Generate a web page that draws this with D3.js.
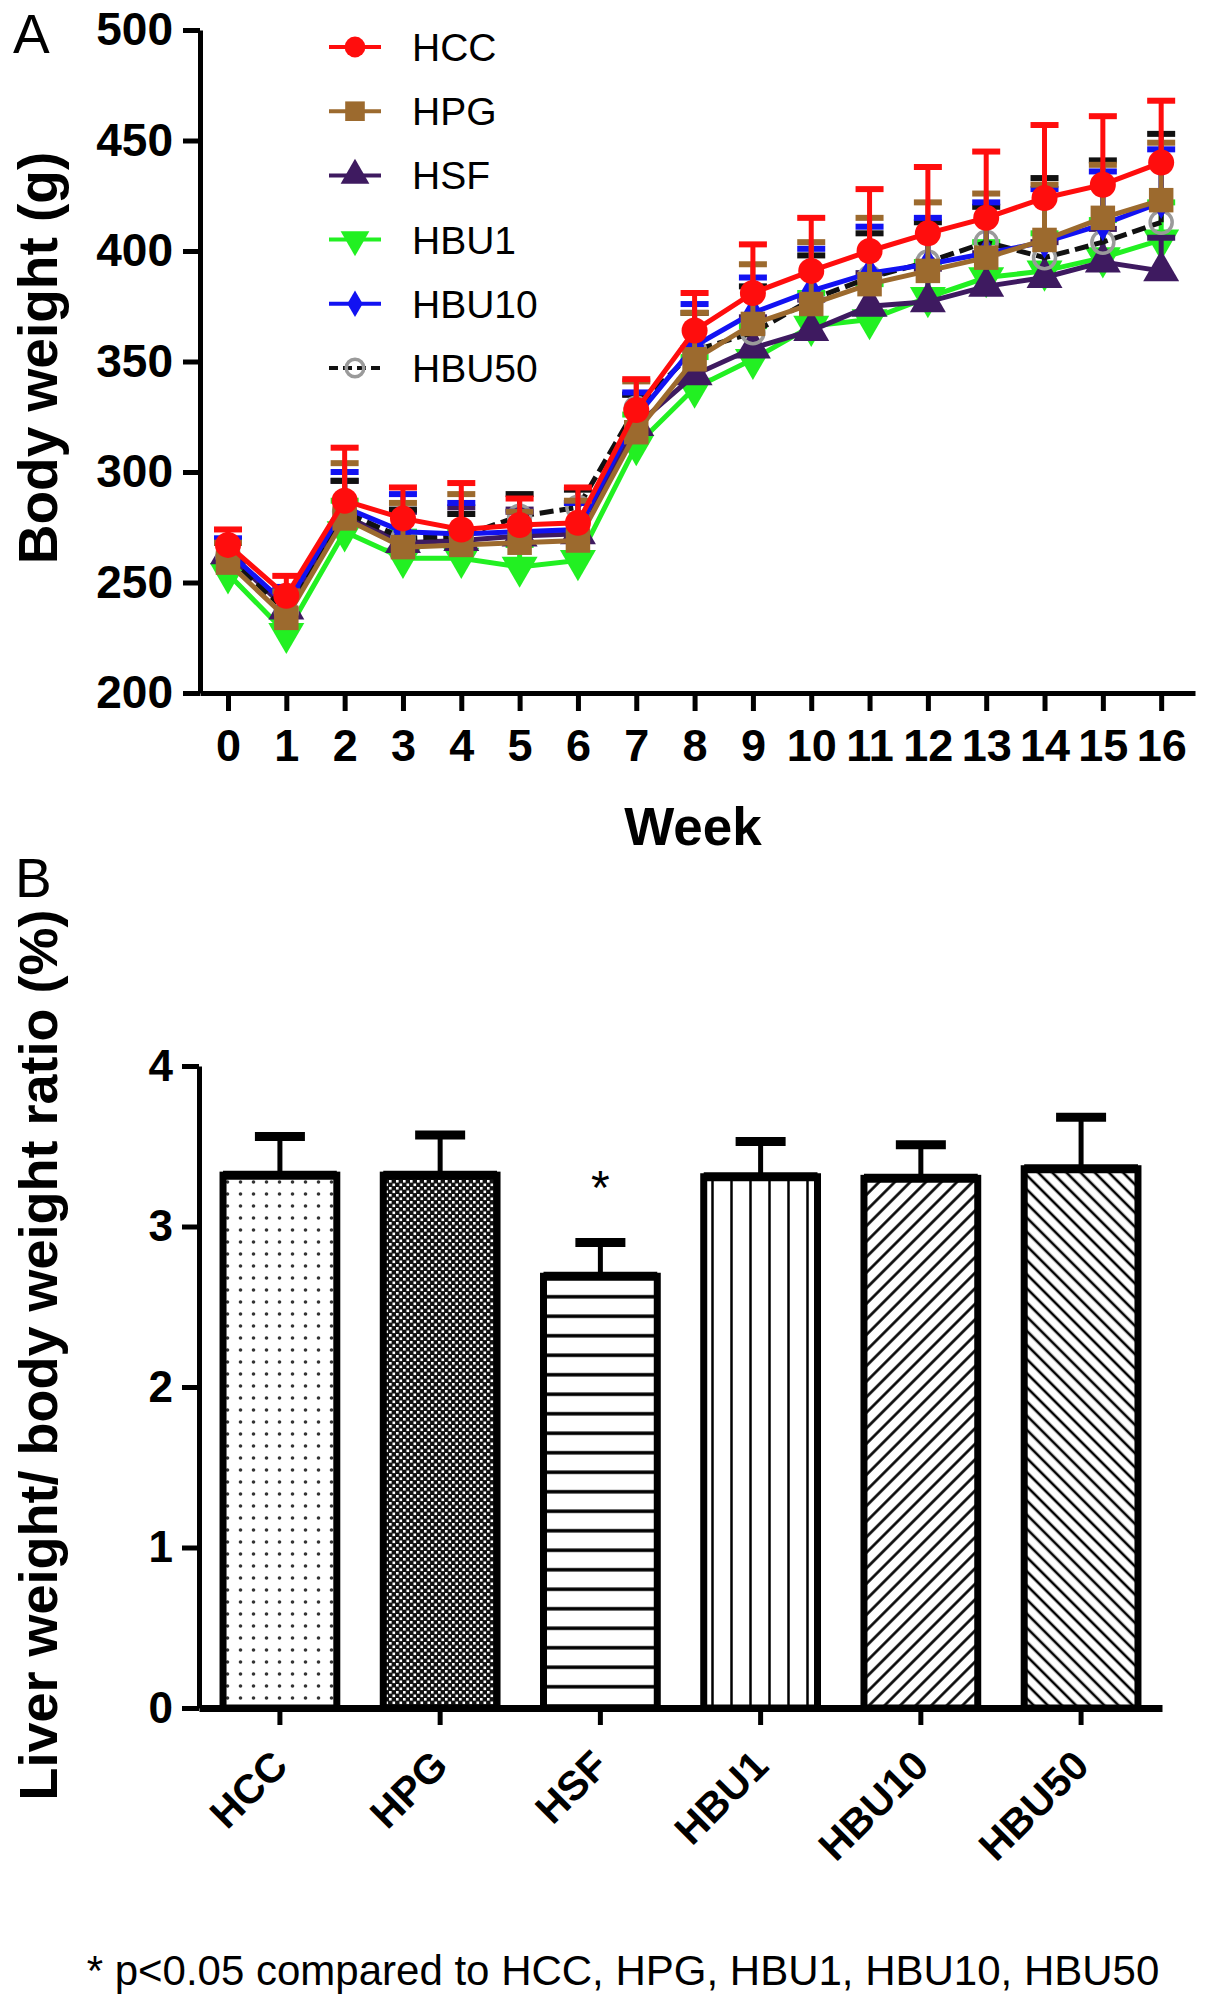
<!DOCTYPE html>
<html>
<head>
<meta charset="utf-8">
<title>Body weight and liver ratio</title>
<script src="https://cdn.jsdelivr.net/npm/d3@7"></script>
<style>
  body { margin: 0; background: #fff; }
  text { font-family: Arial, "Liberation Sans", sans-serif; fill: #000; }
</style>
</head>
<body>
<svg id="chart" width="1205" height="2004"></svg>
<script>
// ---- data, panel A (body weight, g) ----
var weeks = [0, 1, 2, 3, 4, 5, 6, 7, 8, 9, 10, 11, 12, 13, 14, 15, 16];
var yTicksA = [200, 250, 300, 350, 400, 450, 500];

var hccMean   = [267, 244, 287, 279, 274, 276, 277, 328, 364, 381, 391, 400, 408, 415, 424, 430, 440];
var hccErr    = [7, 9, 24, 14, 21, 12, 16, 14, 17, 22, 24, 28, 30, 30, 33, 31, 28];
var hpgMean   = [259, 234, 279, 266, 267, 268, 269, 318, 351, 367, 376, 385, 391, 397, 405, 415, 423];
var hpgErr    = [9, 12, 25, 20, 23, 14, 18, 23, 21, 27, 28, 30, 31, 29, 25, 24, 26];
var hsfMean   = [263, 238, 280, 268, 269, 271, 272, 321, 344, 356, 364, 375, 377, 384, 388, 395, 391];
var hsfErr    = [6, 8, 16, 14, 15, 12, 14, 14, 12, 14, 14, 15, 15, 15, 16, 15, 15];
var hbu1Mean  = [254, 227, 273, 261, 261, 257, 260, 312, 338, 351, 366, 369, 379, 388, 391, 397, 405];
var hbu1Err   = [6, 8, 14, 12, 12, 10, 12, 14, 14, 15, 15, 16, 16, 16, 17, 17, 17];
var hbu10Mean = [264, 240, 284, 273, 272, 273, 274, 325, 357, 372, 382, 390, 394, 399, 404, 412, 422];
var hbu10Err  = [6, 8, 16, 17, 14, 9, 12, 11, 19, 16, 19, 21, 21, 23, 24, 24, 24];
var hbu50Mean = [262, 237, 282, 270, 271, 280, 284, 329, 355, 363, 378, 388, 395, 404, 397, 404, 413];
var hbu50Err  = [6, 9, 14, 13, 10, 10, 8, 6, 17, 21, 20, 20, 18, 16, 36, 37, 40];

// ---- data, panel B (liver/body weight ratio, %) ----
var groups   = ["HCC", "HPG", "HSF", "HBU1", "HBU10", "HBU50"];
var ratioMean = [3.32, 3.32, 2.69, 3.31, 3.30, 3.36];
var ratioErr  = [0.24, 0.25, 0.21, 0.22, 0.21, 0.32];
var yTicksB  = [0, 1, 2, 3, 4];
var footnote = "* p<0.05 compared to HCC, HPG, HBU1, HBU10, HBU50";

var svg = d3.select("#chart");
var defs = svg.append("defs");

// ===================== Panel A =====================
var x = d3.scaleLinear().domain([-0.48, 16.58]).range([200, 1195]);
var y = d3.scaleLinear().domain([200, 500]).range([693, 30]);

var gA = svg.append("g");

function styleAxis(g, fs) {
  g.selectAll("path, line").attr("stroke", "#000").attr("stroke-width", 5);
  g.selectAll("text").attr("font-size", fs).attr("font-weight", "bold")
    .attr("font-family", "Arial, 'Liberation Sans', sans-serif").attr("fill", "#000");
}

gA.append("g").attr("transform", "translate(0,693)")
  .call(d3.axisBottom(x).tickValues(weeks).tickSize(18).tickSizeOuter(0).tickPadding(18))
  .call(styleAxis, 45);
gA.append("g").attr("transform", "translate(200,0)")
  .call(d3.axisLeft(y).tickValues(yTicksA).tickSize(17).tickSizeOuter(0).tickPadding(10))
  .call(styleAxis, 46);

gA.append("text").attr("x", 13).attr("y", 53).attr("font-size", 55).text("A");
gA.append("text").attr("x", 693).attr("y", 845).attr("text-anchor", "middle")
  .attr("font-size", 53).attr("font-weight", "bold").text("Week");
gA.append("text").attr("transform", "translate(57,358) rotate(-90)").attr("text-anchor", "middle")
  .attr("font-size", 55).attr("font-weight", "bold").text("Body weight (g)");

var series = {
  HCC:   { mean: hccMean,   err: hccErr,   color: "#ff0d0d", sym: "circle" },
  HPG:   { mean: hpgMean,   err: hpgErr,   color: "#9c6a2e", sym: "square" },
  HSF:   { mean: hsfMean,   err: hsfErr,   color: "#3e1a60", sym: "triUp" },
  HBU1:  { mean: hbu1Mean,  err: hbu1Err,  color: "#22f022", sym: "triDown" },
  HBU10: { mean: hbu10Mean, err: hbu10Err, color: "#1212f2", sym: "diamond" },
  HBU50: { mean: hbu50Mean, err: hbu50Err, color: "#111111", sym: "open" }
};
var drawOrder = ["HBU1", "HSF", "HBU50", "HBU10", "HPG", "HCC"];

function marker(g, s, cx, cy, scale) {
  scale = scale || 1;
  var m;
  if (s.sym === "circle") {
    m = g.append("circle").attr("r", 13 * scale).attr("fill", s.color);
  } else if (s.sym === "open") {
    m = g.append("circle").attr("r", 11 * scale).attr("fill", "none")
      .attr("stroke", "#9a9a9a").attr("stroke-width", 3.5);
  } else {
    var type = { square: d3.symbolSquare, triUp: d3.symbolTriangle, triDown: d3.symbolTriangle,
                 diamond: d3.symbolDiamond }[s.sym];
    var size = { square: 600, triUp: 560, triDown: 560, diamond: 320 }[s.sym] * scale * scale;
    m = g.append("path").attr("d", d3.symbol().type(type).size(size)()).attr("fill", s.color);
    if (s.sym === "triDown") {
      m.attr("transform", "translate(" + cx + "," + cy + ") rotate(180)");
      return m;
    }
  }
  if (m.node().tagName === "circle") m.attr("cx", cx).attr("cy", cy);
  else m.attr("transform", "translate(" + cx + "," + cy + ")");
  return m;
}

var line = d3.line().x(function (d, i) { return x(weeks[i]); }).y(function (d) { return y(d); });

drawOrder.forEach(function (name) {
  var s = series[name];
  var g = gA.append("g");
  g.append("path").datum(s.mean).attr("d", line).attr("fill", "none")
    .attr("stroke", s.color).attr("stroke-width", 5)
    .attr("stroke-dasharray", name === "HBU50" ? "14,6" : null);
  // error bars (upper only)
  s.mean.forEach(function (m, i) {
    var cx = x(weeks[i]);
    g.append("line").attr("x1", cx).attr("x2", cx).attr("y1", y(m)).attr("y2", y(m + s.err[i]))
      .attr("stroke", s.color).attr("stroke-width", 5);
    g.append("line").attr("x1", cx - 14).attr("x2", cx + 14)
      .attr("y1", y(m + s.err[i])).attr("y2", y(m + s.err[i]))
      .attr("stroke", s.color).attr("stroke-width", 6);
  });
  s.mean.forEach(function (m, i) { marker(g, s, x(weeks[i]), y(m)); });
});

// legend
var legendOrder = ["HCC", "HPG", "HSF", "HBU1", "HBU10", "HBU50"];
var legY = d3.scalePoint().domain(legendOrder).range([47, 368]);
legendOrder.forEach(function (name) {
  var s = series[name];
  var ly = legY(name);
  var g = gA.append("g");
  g.append("line").attr("x1", 329).attr("x2", 381).attr("y1", ly).attr("y2", ly)
    .attr("stroke", s.color).attr("stroke-width", 4)
    .attr("stroke-dasharray", name === "HBU50" ? "9,5" : null);
  marker(g, s, 355, ly, 0.8);
  g.append("text").attr("x", 412).attr("y", ly).attr("dy", "0.36em")
    .attr("font-size", 39).text(name);
});

// ===================== Panel B =====================
function linePattern(id, w, h, angle, vertical, sw) {
  var p = defs.append("pattern").attr("id", id).attr("patternUnits", "userSpaceOnUse")
    .attr("width", w).attr("height", h);
  if (angle) p.attr("patternTransform", "rotate(" + angle + ")");
  p.append("rect").attr("width", w).attr("height", h).attr("fill", "#fff");
  if (vertical) p.append("line").attr("x1", w / 2).attr("x2", w / 2).attr("y1", 0).attr("y2", h)
    .attr("stroke", "#000").attr("stroke-width", sw);
  else p.append("line").attr("x1", 0).attr("x2", w).attr("y1", h / 2).attr("y2", h / 2)
    .attr("stroke", "#000").attr("stroke-width", sw);
}
// dots
var pd = defs.append("pattern").attr("id", "pHCC").attr("patternUnits", "userSpaceOnUse")
  .attr("width", 13).attr("height", 12);
pd.append("rect").attr("width", 13).attr("height", 12).attr("fill", "#fff");
pd.append("circle").attr("cx", 6.5).attr("cy", 6).attr("r", 1.8).attr("fill", "#333");
// checker
var pc = defs.append("pattern").attr("id", "pHPG").attr("patternUnits", "userSpaceOnUse")
  .attr("width", 7).attr("height", 7);
pc.append("rect").attr("width", 7).attr("height", 7).attr("fill", "#111");
pc.append("rect").attr("x", 0.5).attr("y", 0.5).attr("width", 2.6).attr("height", 2.6).attr("fill", "#fff");
pc.append("rect").attr("x", 4).attr("y", 4).attr("width", 2.6).attr("height", 2.6).attr("fill", "#fff");
linePattern("pHSF", 10, 19.5, 0, false, 3.5);
linePattern("pHBU1", 19, 10, 0, true, 2.5);
linePattern("pHBU10", 11, 10, 45, true, 2.6);
linePattern("pHBU50", 10, 10, -45, true, 2.6);

var xb = d3.scaleBand().domain(groups).range([199, 1162]).paddingInner(0.29).paddingOuter(0.15);
var yb = d3.scaleLinear().domain([0, 4]).range([1708, 1066]);

var gB = svg.append("g");
gB.append("text").attr("x", 15).attr("y", 897).attr("font-size", 55).text("B");
gB.append("text").attr("transform", "translate(57,1355) rotate(-90)").attr("text-anchor", "middle")
  .attr("font-size", 54).attr("font-weight", "bold").text("Liver weight/ body weight ratio (%)");

groups.forEach(function (gname, i) {
  var cx = xb(gname) + xb.bandwidth() / 2;
  var top = yb(ratioMean[i] + ratioErr[i]);
  gB.append("line").attr("x1", cx).attr("x2", cx).attr("y1", yb(ratioMean[i])).attr("y2", top)
    .attr("stroke", "#000").attr("stroke-width", 5);
  gB.append("line").attr("x1", cx - 25).attr("x2", cx + 25).attr("y1", top).attr("y2", top)
    .attr("stroke", "#000").attr("stroke-width", 9);
  gB.append("rect").attr("x", xb(gname)).attr("width", xb.bandwidth())
    .attr("y", yb(ratioMean[i])).attr("height", yb(0) - yb(ratioMean[i]))
    .attr("fill", "url(#p" + gname + ")").attr("stroke", "#000").attr("stroke-width", 7);
  gB.append("line").attr("x1", xb(gname)).attr("x2", xb(gname) + xb.bandwidth())
    .attr("y1", yb(ratioMean[i])).attr("y2", yb(ratioMean[i]))
    .attr("stroke", "#000").attr("stroke-width", 9);
});

gB.append("text").attr("x", xb("HSF") + xb.bandwidth() / 2).attr("y", 1204)
  .attr("text-anchor", "middle").attr("font-size", 48).text("*");

gB.append("g").attr("transform", "translate(199,0)")
  .call(d3.axisLeft(yb).tickValues(yTicksB).tickFormat(d3.format("d"))
    .tickSize(17).tickSizeOuter(0).tickPadding(9))
  .call(styleAxis, 44);
var xAxB = gB.append("g").attr("transform", "translate(0,1708)")
  .call(d3.axisBottom(xb).tickSize(17).tickSizeOuter(0))
  .call(styleAxis, 41);
xAxB.select(".domain").attr("stroke-width", 7);
xAxB.selectAll("text").attr("x", null).attr("y", null).attr("dy", null)
  .attr("text-anchor", "end").attr("transform", "translate(10,60) rotate(-45)");

svg.append("text").attr("x", 623).attr("y", 1985).attr("text-anchor", "middle")
  .attr("font-size", 42).text(footnote);
</script>
</body>
</html>
